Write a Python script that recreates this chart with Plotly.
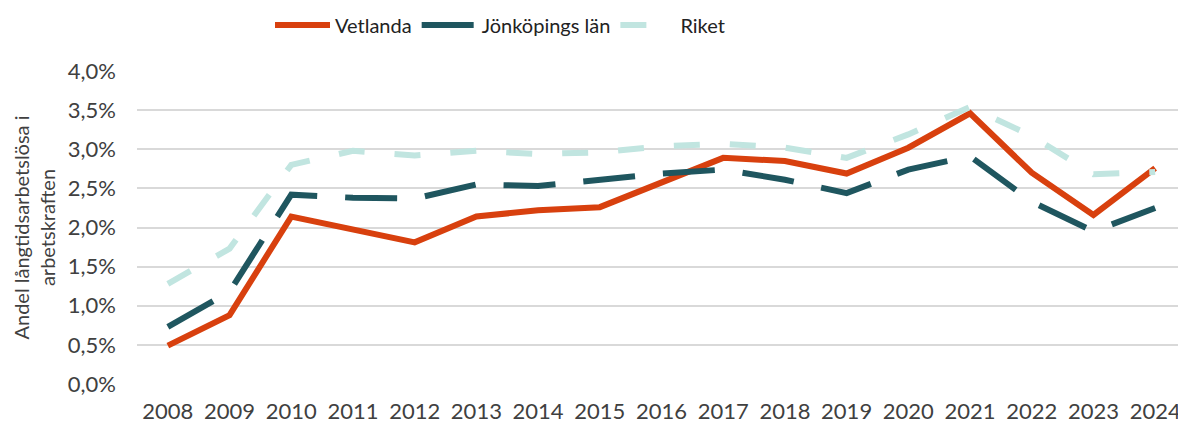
import plotly.graph_objects as go

years = [str(y) for y in range(2008, 2025)]
vetlanda = [0.49, 0.88, 2.14, 1.97, 1.81, 2.14, 2.22, 2.26, 2.58, 2.89, 2.85, 2.69, 3.02, 3.46, 2.70, 2.16, 2.76]
jonkoping = [0.73, 1.18, 2.42, 2.38, 2.37, 2.55, 2.53, 2.61, 2.69, 2.74, 2.61, 2.44, 2.74, 2.91, 2.33, 1.95, 2.25]
riket = [1.28, 1.73, 2.80, 2.98, 2.92, 2.98, 2.94, 2.96, 3.04, 3.07, 3.02, 2.89, 3.19, 3.54, 3.17, 2.68, 2.71]
series_names = ["Vetlanda", "Jönköpings län", "Riket"]
y_ticks = [0, 0.5, 1.0, 1.5, 2.0, 2.5, 3.0, 3.5, 4.0]
y_ticktext = ["0,0%", "0,5%", "1,0%", "1,5%", "2,0%", "2,5%", "3,0%", "3,5%", "4,0%"]
y_title = "Andel långtidsarbetslösa i<br>arbetskraften"

FONT = "Lato"
TXT = "#404040"
# page body adds an 8px margin, so the figure is 8px smaller
W, H = 1178, 415
ML, MR, MT, MB = 129, 0, 63, 39
PW, PH = W - ML - MR, H - MT - MB

fig = go.Figure()
fig.add_trace(go.Scatter(x=years, y=vetlanda, name=series_names[0], mode="lines",
                         line=dict(color="#D8400E", width=6)))
fig.add_trace(go.Scatter(x=years, y=jonkoping, name=series_names[1], mode="lines",
                         line=dict(color="#1F565F", width=6, dash="52px,28px")))
fig.add_trace(go.Scatter(x=years, y=riket, name=series_names[2], mode="lines",
                         line=dict(color="#C1E5E0", width=6, dash="26px,30px")))

fig.update_layout(
    width=W, height=H,
    margin=dict(l=ML, r=MR, t=MT, b=MB, autoexpand=False),
    paper_bgcolor="white", plot_bgcolor="white",
    font=dict(family=FONT, color=TXT, size=20),
    legend=dict(orientation="h", xref="container", yref="container",
                x=262 / W, xanchor="left", y=1 - 17 / H, yanchor="middle",
                font=dict(size=20, family=FONT, color="#222222"),
                itemwidth=55, traceorder="normal"),
    xaxis=dict(type="category", range=[-0.5, 16.5], showgrid=False, showline=False,
               ticks="", automargin=False, ticklabelstandoff=12,
               tickfont=dict(size=22, family=FONT, color=TXT)),
    yaxis=dict(range=[0, 4.0], tickvals=y_ticks, ticktext=y_ticktext,
               showgrid=True, gridcolor="#D9D9D9", gridwidth=2, zeroline=False,
               showline=False, ticks="", ticklabelstandoff=20, automargin=False,
               tickfont=dict(size=22, family=FONT, color=TXT)),
    annotations=[dict(text=y_title, textangle=-90, xref="paper", yref="paper",
                      x=-(ML - 25) / PW, y=0.5, xanchor="center", yanchor="middle",
                      showarrow=False, align="center", borderpad=0,
                      font=dict(size=20, family=FONT, color=TXT))],
)
fig.write_html("out.html")
